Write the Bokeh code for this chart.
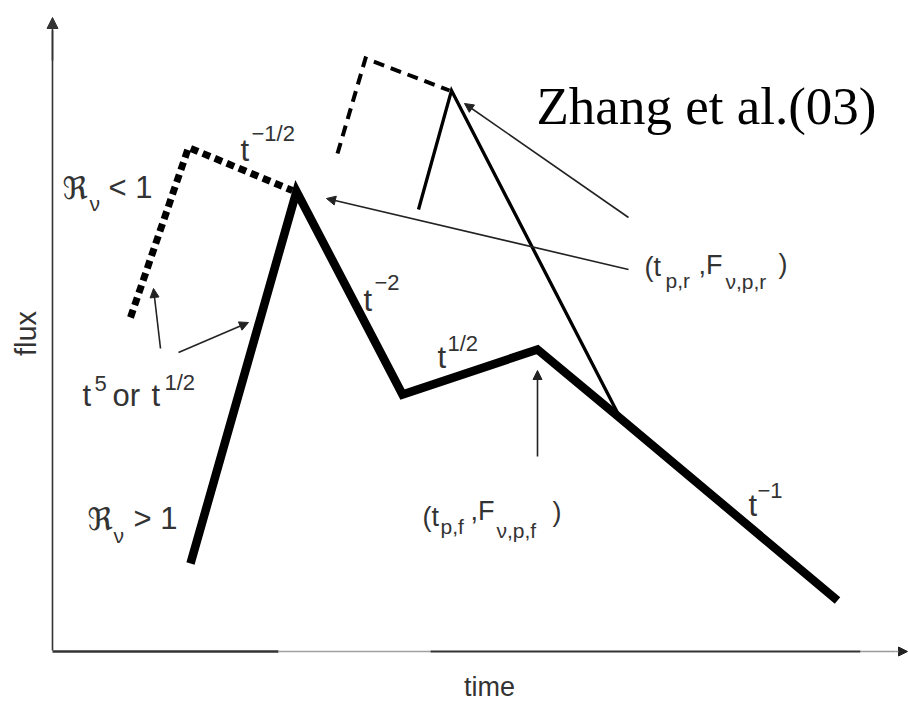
from bokeh.plotting import figure
from bokeh.models import ColumnDataSource, Arrow, NormalHead, Range1d
from bokeh.core.properties import value
from bokeh.embed import file_html
from bokeh.resources import INLINE
import math

W, H = 908, 703

# ---- schematic light-curve vertices (time, flux in arbitrary units) ----
fs_time = [190, 296, 402, 537, 620, 837]          # thick solid: forward shock
fs_flux = [140, 512, 309, 354, 285, 103]
rs1_time = [130, 188, 292]                        # thick dotted: R_nu < 1
rs1_flux = [386, 556, 513]
rs2d_time = [337, 365, 449]                       # thin dashed
rs2d_flux = [550, 645, 613]
rs2_time = [418, 451, 620]                        # medium solid
rs2_flux = [494, 613, 285]

# annotation arrows (tail -> head)
arrow_x0 = [628, 628, 537, 160, 178]
arrow_y0 = [486, 434, 247, 355, 351]
arrow_x1 = [464, 326, 537, 153, 248]
arrow_y1 = [600, 505, 333, 415, 381]

# label pieces: text, left x, baseline y, size(px), font
SANS = "Liberation Sans"
SYM = "DejaVu Sans"
lab_text = ["t", "\u22121/2",
            "\u211c", "\u03bd", "< 1",
            "\u211c", "\u03bd", "> 1",
            "t", "\u22122",
            "t", "1/2",
            "t", "5", "or", "t", "1/2",
            "t", "\u22121",
            "(t", "p,r", ",F", "\u03bd,p,r", ")",
            "(t", "p,f", ",F", "\u03bd,p,f", ")"]
lab_x = [240, 251,
         62, 89, 108,
         87, 113, 133,
         363, 374,
         437, 447,
         82, 94, 112, 151, 164,
         748, 757,
         644, 665, 698, 725, 778,
         422, 440, 470, 496, 552]
lab_base = [150, 133,
            187, 203, 187,
            518, 535, 518,
            300, 282,
            357, 343,
            395, 383, 395, 395, 382,
            505, 490,
            266, 280, 264, 281, 263,
            516, 526, 510, 530, 511]
lab_size = [31, 22,
            31, 21, 31,
            31, 21, 31,
            31, 22,
            31, 22,
            31, 22, 31, 31, 22,
            31, 22,
            27, 21, 27, 21, 27,
            27, 21, 27, 21, 27]
lab_font = [SANS, SANS,
            SYM, SANS, SANS,
            SYM, SANS, SANS] + [SANS] * 21

p = figure(width=W, height=H, x_range=Range1d(0, W), y_range=Range1d(0, H),
           x_axis_type=None, y_axis_type=None, toolbar_location=None,
           output_backend="svg", min_border=0, outline_line_color=None,
           background_fill_color="white", border_fill_color="white")
p.grid.visible = False

# axes drawn as arrows
ax_col = "#333333"
p.line([52, 52], [H - 650, H - 30], line_color=ax_col, line_width=1.6)
p.add_layout(Arrow(end=NormalHead(size=11, fill_color=ax_col, line_color=ax_col),
                   x_start=52, y_start=H - 60, x_end=52, y_end=H - 17,
                   line_color=ax_col, line_width=1.6))
p.line([52, 278], [H - 651, H - 651], line_color="#333333", line_width=2.6)
p.line([278, 430], [H - 651, H - 651], line_color="#a0a0a0", line_width=1.6)
p.line([430, 860], [H - 651, H - 651], line_color="#333333", line_width=2.0)
p.line([860, 895], [H - 651, H - 651], line_color="#9a9a9a", line_width=1.6)
p.add_layout(Arrow(end=NormalHead(size=9, fill_color="#222222", line_color="#222222"),
                   x_start=895, y_start=H - 651, x_end=907, y_end=H - 651,
                   line_color="#9a9a9a", line_width=1.6))

# curves
p.line(rs1_time, rs1_flux, line_color="black", line_width=7, line_dash="8 5",
       line_join="miter", line_cap="butt")
p.line(rs2d_time, rs2d_flux, line_color="black", line_width=4, line_dash="11 7",
       line_join="miter", line_cap="butt")
p.line(rs2_time, rs2_flux, line_color="black", line_width=3.3, line_join="miter")
p.line(fs_time, fs_flux, line_color="black", line_width=8.5, line_join="miter",
       line_cap="butt")

# annotation arrows
asrc = ColumnDataSource(dict(x0=arrow_x0, y0=arrow_y0, x1=arrow_x1, y1=arrow_y1))
p.add_layout(Arrow(end=NormalHead(size=9, fill_color="#222222", line_color="#222222",
                                  line_width=1),
                   x_start="x0", y_start="y0", x_end="x1", y_end="y1",
                   source=asrc, line_color="#222222", line_width=1.6))

# labels
lsrc = ColumnDataSource(dict(text=lab_text, x=lab_x,
                             y=[H - b for b in lab_base],
                             size=[f"{s}px" for s in lab_size],
                             font=lab_font))
p.text(x="x", y="y", text="text", source=lsrc, text_font="font",
       text_font_size="size", text_color="#333333",
       text_align="left", text_baseline="alphabetic")

# axis titles
p.text(x=[25], y=[H - 333], text=["flux"], angle=math.pi / 2,
       text_font=value(SANS), text_font_size="29px", text_color="#333333",
       text_align="center", text_baseline="middle")
p.text(x=[489], y=[H - 686], text=["time"],
       text_font=value(SANS), text_font_size="27px", text_color="#333333",
       text_align="center", text_baseline="alphabetic")

# citation
p.text(x=[536], y=[H - 105], text=["Zhang et al.(03)"],
       text_font=value("Liberation Serif"), text_font_size="53px",
       text_color="black", text_align="left", text_baseline="alphabetic")

open("out.html", "w").write(file_html(p, INLINE))
